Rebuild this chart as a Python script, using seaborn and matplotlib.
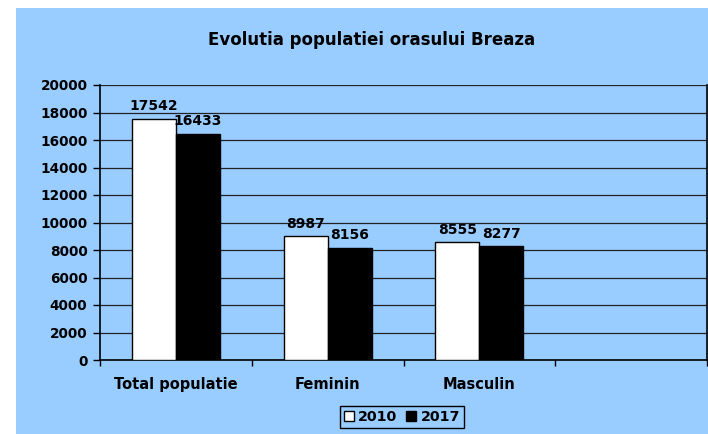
import numpy as np
import pandas as pd
import seaborn as sns
import matplotlib.pyplot as plt
from matplotlib.patches import Rectangle
from matplotlib.ticker import MultipleLocator, FixedLocator

# chart values
categories = ["Total populatie", "Feminin", "Masculin"]
years = ["2010", "2017"]
values_2010 = [17542, 8987, 8555]
values_2017 = [16433, 8156, 8277]

blue = "#99CCFF"

data_frame = pd.DataFrame({
    "categorie": categories * 2,
    "an": [years[0]] * 3 + [years[1]] * 3,
    "populatie": values_2010 + values_2017,
})

sns.set_style("ticks")
plt.rcParams["font.family"] = ["DejaVu Sans"]
plt.rcParams["font.weight"] = "bold"
plt.rcParams["text.color"] = "black"
plt.rcParams["xtick.color"] = "black"
plt.rcParams["ytick.color"] = "black"
plt.rcParams["xtick.labelcolor"] = "black"
plt.rcParams["ytick.labelcolor"] = "black"

fig = plt.figure(figsize=(7.08, 4.34), dpi=100, facecolor="white")
# light blue chart area (white strip on the left and top like the original)
fig.patches.append(Rectangle((16 / 708, 0), 1 - 16 / 708, (434 - 8) / 434,
                             transform=fig.transFigure, facecolor=blue,
                             edgecolor="none", zorder=-5))

ax = fig.add_axes([100 / 708, 1 - 360 / 434, 607 / 708, 275 / 434])
ax.set_facecolor(blue)

# an empty fourth slot, like in the original sheet
order = categories + [" "]
sns.barplot(data=data_frame, x="categorie", y="populatie", hue="an",
            order=order, hue_order=years, palette=["white", "black"],
            width=0.58, edgecolor="black", linewidth=1, ax=ax, zorder=3)

for container in ax.containers:
    ax.bar_label(container, fmt="%d", padding=4, fontsize=10,
                 fontweight="bold", zorder=4)

ax.set_ylim(0, 20000)
ax.set_xlim(-0.5, 3.5)
ax.yaxis.set_major_locator(MultipleLocator(2000))
ax.grid(axis="y", color="#222222", linewidth=0.9, zorder=1)

# labels in the middle of the slots, tick marks on the slot borders
ax.set_xticks(range(len(order)))
ax.set_xticklabels(order, fontsize=10.5, fontweight="bold")
ax.tick_params(axis="x", which="major", length=0, pad=12)
ax.xaxis.set_minor_locator(FixedLocator(np.arange(-0.5, 3.6, 1)))
ax.tick_params(axis="x", which="minor", length=4, width=1, color="black")
ax.tick_params(axis="y", length=5, width=1, labelsize=9.8, pad=4)
for lab in ax.get_yticklabels():
    lab.set_fontweight("bold")

for side in ["left", "bottom", "right"]:
    ax.spines[side].set_visible(True)
    ax.spines[side].set_color("black")
    ax.spines[side].set_linewidth(1.2)
ax.spines["top"].set_visible(False)

ax.set_xlabel("")
ax.set_ylabel("")

fig.text(372 / 708, 1 - 40 / 434, "Evolutia populatiei orasului Breaza",
         ha="center", va="center", fontsize=12, fontweight="bold")

ax.legend_.remove()
handles = [Rectangle((0, 0), 1, 1, facecolor="white", edgecolor="black"),
           Rectangle((0, 0), 1, 1, facecolor="black", edgecolor="black")]
leg = fig.legend(handles, years, loc="center", bbox_to_anchor=(402 / 708, 1 - 417 / 434),
                 ncol=2, frameon=True, fancybox=False, framealpha=1,
                 handlelength=0.7, handleheight=0.7, handletextpad=0.3,
                 columnspacing=0.6, borderpad=0.3, prop={"size": 10.3, "weight": "bold"})
leg.get_frame().set_facecolor(blue)
leg.get_frame().set_edgecolor("black")
leg.get_frame().set_linewidth(1)

plt.savefig("out.png", dpi=100, facecolor="white")
